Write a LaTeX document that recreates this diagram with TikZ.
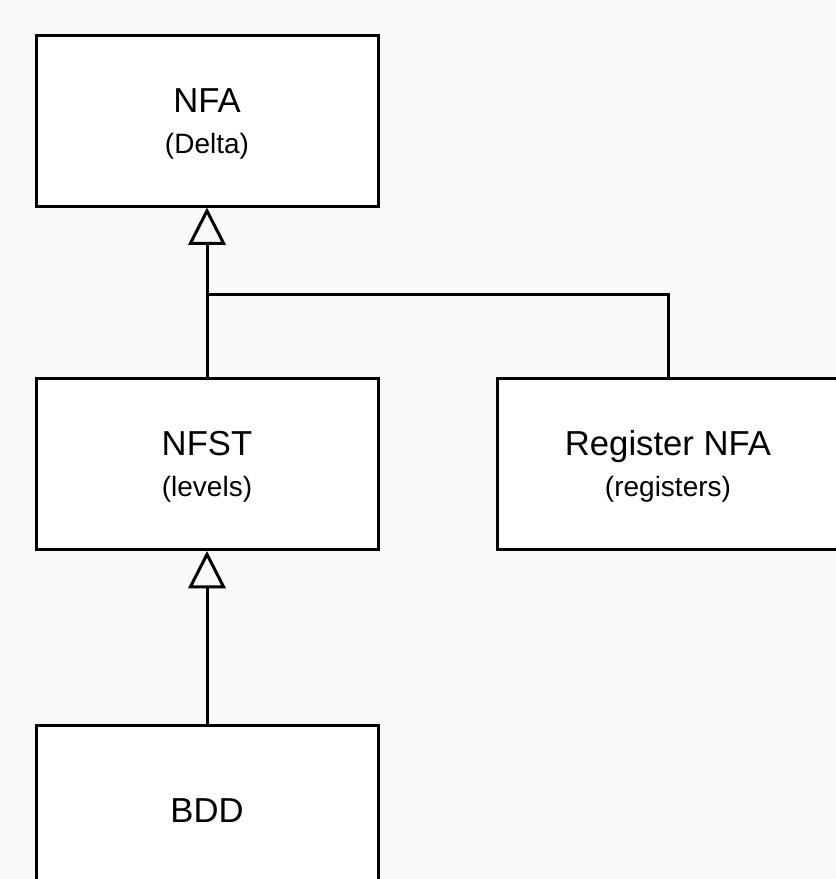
\documentclass[tikz,border=0pt]{standalone}
\usepackage{fontspec}
\setmainfont{Liberation Sans}
\usetikzlibrary{arrows.meta,positioning,calc}
\definecolor{canvas}{HTML}{FAFAFA}
\tikzset{
    x=0.75pt,y=-0.75pt,
    cls/.style ={rectangle, draw, line width=2.25pt, fill=white, minimum width = 256.5pt, minimum height = 128.25pt, align=center, inner sep=0pt, font=\fontsize{26}{30.75}\selectfont},
    generalization/.style={line width=2.25pt, -{Triangle[open,length=28pt,width=28pt]}},
    link/.style={line width=2.25pt},
}
\newcommand{\sub}[1]{\rule{0pt}{23pt}\\{\fontsize{21}{24}\selectfont #1}}

\begin{document}
\begin{tikzpicture}
    \useasboundingbox (0,0) rectangle (836,879);
    \fill[canvas] (0,0) rectangle (836,879);

    % Classes
    \node[cls] (nfa) at (207,120.5) {NFA\sub{(Delta)}};
    \node[cls] (nfst) at (207,464) {NFST\sub{(levels)}};
    \node[cls] (reg) at (668,464) {Register NFA\sub{(registers)}};
    \node[cls] (bdd) at (207,811) {BDD};
    \coordinate (join) at (207,294);

    % Inheritance
    \path[generalization] (nfst.north) edge (nfa.south);
    \draw[link] (reg.north) |- (join);
    \path[generalization] (bdd.north) edge (nfst.south);
\end{tikzpicture}
\end{document}
